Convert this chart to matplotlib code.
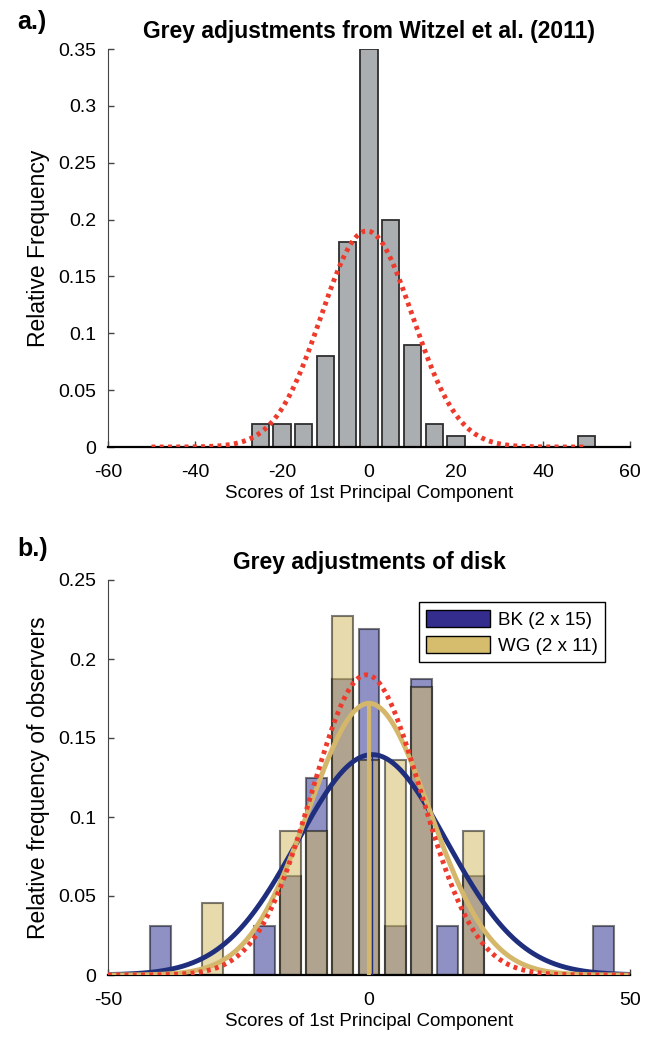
import numpy as np
import matplotlib.pyplot as plt
from matplotlib.patches import Patch

plt.rcParams['font.family'] = ['Liberation Sans', 'DejaVu Sans']
plt.rcParams['axes.unicode_minus'] = False

# panel a: Witzel et al. (2011) histogram
a_centers = [-25, -20, -15, -10, -5, 0, 5, 10, 15, 20, 50]
a_freq = [0.02, 0.02, 0.02, 0.08, 0.18, 0.35, 0.20, 0.09, 0.02, 0.01, 0.01]

# panel b: disk adjustments, BK and WG observers
b_centers = [-40, -30, -20, -15, -10, -5, 0, 5, 10, 15, 20, 45]
bk_freq = [0.031, 0.0, 0.031, 0.0625, 0.125, 0.1875, 0.219, 0.031, 0.1875, 0.031, 0.0625, 0.031]
wg_freq = [0.0, 0.0455, 0.0, 0.091, 0.091, 0.227, 0.136, 0.136, 0.182, 0.0, 0.091, 0.0]

# fitted normal curves (mean, sd), scaled by bin width
bin_w = 5
witzel_fit = (-0.5, 10.5)
bk_fit = (0.6, 14.3)
wg_fit = (0.0, 11.6)

RED = '#ee3a2c'
BK_LINE = '#1f2f7e'
WG_LINE = '#d4b76a'
BK_BAR = '#21258a'
WG_BAR = '#d1b75d'


def gauss(x, mu, sd):
    return bin_w * np.exp(-0.5 * ((x - mu) / sd) ** 2) / (sd * np.sqrt(2 * np.pi))


def style_axes(ax):
    ax.spines['top'].set_visible(False)
    ax.spines['right'].set_visible(False)
    ax.spines['left'].set_color('#444444')
    ax.spines['bottom'].set_linewidth(1.6)
    ax.tick_params(direction='in', length=4, width=1, labelsize=14,
                   color='#444444')
    ax.tick_params(axis='x', pad=12)
    ax.tick_params(axis='y', pad=8.5)


fig = plt.figure(figsize=(6.67, 10.38), dpi=100)

# ---- a.) ----
ax1 = fig.add_axes([108 / 667, 1 - 447 / 1038, 522 / 667, 398 / 1038])
ax1.bar(a_centers, a_freq, width=4, color='#abaeb1', edgecolor='#2e2e2e',
        linewidth=1.3, zorder=2)
xs = np.linspace(-50, 50, 400)
ax1.plot(xs, gauss(xs, *witzel_fit), color=RED, lw=3.5, ls=(0, (0.8, 0.9)),
         zorder=3)
ax1.set_xlim(-60, 60)
ax1.set_ylim(0, 0.35)
ax1.set_xticks(np.arange(-60, 61, 20))
ax1.set_yticks(np.arange(0, 0.351, 0.05))
ax1.set_yticklabels(['0', '0.05', '0.1', '0.15', '0.2', '0.25', '0.3', '0.35'])
style_axes(ax1)
ax1.set_title('Grey adjustments from Witzel et al. (2011)', fontsize=16.5,
              fontweight='bold', pad=8)
ax1.set_xlabel('Scores of 1st Principal Component', fontsize=13.5, labelpad=3)
ax1.set_ylabel('Relative Frequency', fontsize=16.5, labelpad=6)
fig.text(17 / 667, 1 - 29 / 1038, 'a.)', fontsize=18, fontweight='bold',
         va='baseline')

# ---- b.) ----
ax2 = fig.add_axes([108 / 667, 1 - 975 / 1038, 522 / 667, 395 / 1038])
ax2.bar(b_centers, bk_freq, width=4, color=BK_BAR, edgecolor='black',
        linewidth=1.5, alpha=0.5, zorder=2)
ax2.bar(b_centers, wg_freq, width=4, color=WG_BAR, edgecolor='black',
        linewidth=1.5, alpha=0.5, zorder=2)
xb = np.linspace(-50, 50, 400)
ax2.plot(xb, gauss(xb, *bk_fit), color=BK_LINE, lw=3.5, zorder=3)
ax2.plot([bk_fit[0], bk_fit[0]], [0, gauss(bk_fit[0], *bk_fit)],
         color=BK_LINE, lw=1, zorder=3)
ax2.plot(xb, gauss(xb, *wg_fit), color=WG_LINE, lw=3.5, zorder=4)
ax2.plot([wg_fit[0], wg_fit[0]], [0, gauss(wg_fit[0], *wg_fit)],
         color=WG_LINE, lw=3, zorder=4)
ax2.plot(xb, gauss(xb, *witzel_fit), color=RED, lw=3.5, ls=(0, (0.8, 0.9)),
         zorder=5)
ax2.set_xlim(-50, 50)
ax2.set_ylim(0, 0.25)
ax2.set_xticks([-50, 0, 50])
ax2.set_yticks(np.arange(0, 0.251, 0.05))
ax2.set_yticklabels(['0', '0.05', '0.1', '0.15', '0.2', '0.25'])
style_axes(ax2)
ax2.set_title('Grey adjustments of disk', fontsize=16.5, fontweight='bold', pad=8)
ax2.set_xlabel('Scores of 1st Principal Component', fontsize=13.5, labelpad=3)
ax2.set_ylabel('Relative frequency of observers', fontsize=16.5, labelpad=6)
handles = [Patch(facecolor='#352d8e', edgecolor='black', lw=1),
           Patch(facecolor='#d6bd6e', edgecolor='black', lw=1)]
leg = ax2.legend(handles, ['BK (2 x 15)', 'WG (2 x 11)'], loc='upper right',
                 bbox_to_anchor=(0.952, 0.944), fontsize=13.5, fancybox=False,
                 edgecolor='black', framealpha=1, handlelength=3.4,
                 handleheight=1.05, handletextpad=0.4, borderpad=0.4,
                 labelspacing=0.38, borderaxespad=0)
leg.get_frame().set_linewidth(1)
fig.text(17 / 667, 1 - 556 / 1038, 'b.)', fontsize=18, fontweight='bold',
         va='baseline')

fig.savefig('out.png', dpi=100)
